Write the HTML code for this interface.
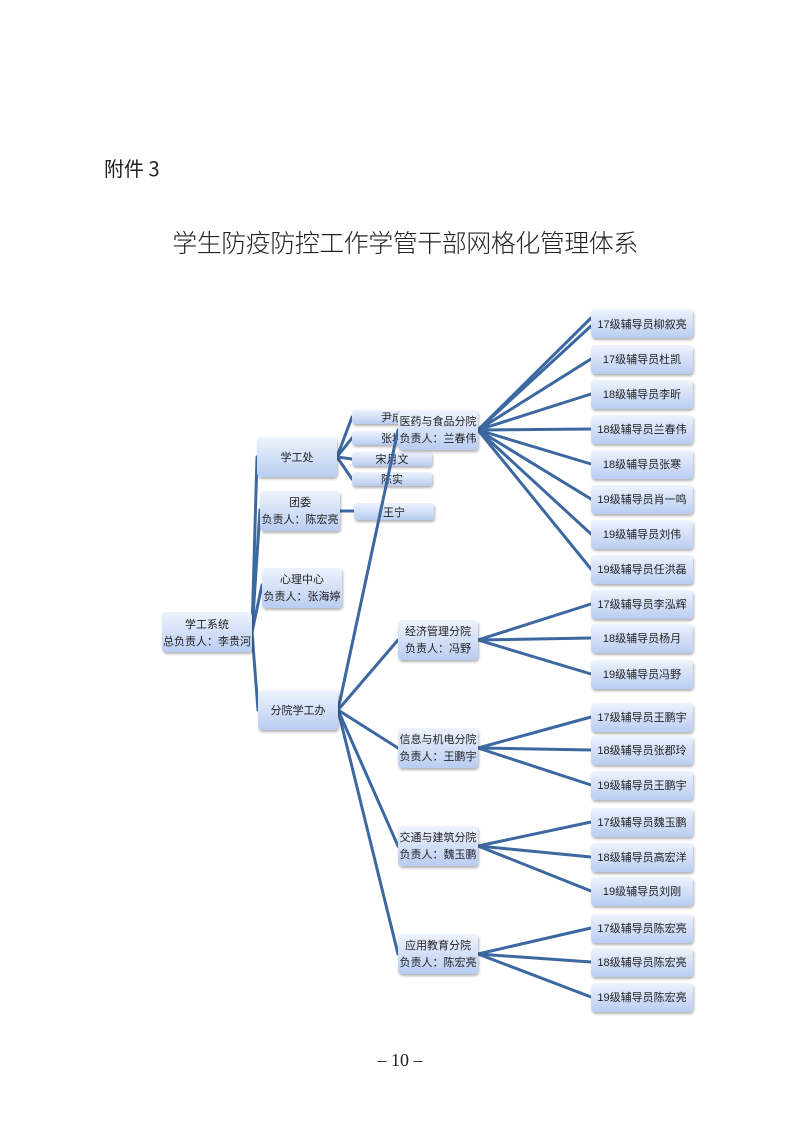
<!DOCTYPE html>
<html><head><meta charset="utf-8"><style>
html,body{margin:0;padding:0;background:#fff;}
svg{display:block;}
text{font-family:"Liberation Sans","Noto Sans CJK SC",sans-serif;fill:#222;}
</style></head><body>
<svg width="800" height="1131" viewBox="0 0 800 1131" xmlns="http://www.w3.org/2000/svg">
<defs>
<linearGradient id="g" x1="0" y1="0" x2="0" y2="1">
<stop offset="0" stop-color="#eef3fd"/><stop offset="1" stop-color="#b9cdf2"/>
</linearGradient>
<filter id="s" x="-10%" y="-20%" width="130%" height="160%"><feDropShadow dx="1" dy="2" stdDeviation="1.2" flood-color="#000" flood-opacity="0.3"/></filter>
</defs>
<rect width="800" height="1131" fill="#fff"/>
<text x="104" y="176" font-size="20" style="font-family:'Noto Sans CJK SC',sans-serif">附件 3</text>
<text x="405" y="252" font-size="25" text-anchor="middle" style="font-family:'Noto Sans CJK SC',sans-serif;font-weight:300;letter-spacing:-0.5px" fill="#333">学生防疫防控工作学管干部网格化管理体系</text>
<text x="400" y="1066" font-size="18" text-anchor="middle" style="font-family:'Liberation Serif',serif">–  10  –</text>

<g stroke="#3c68a2" stroke-width="3" fill="none" stroke-linecap="round">
<line x1="252" y1="632" x2="257" y2="457"/>
<line x1="252" y1="632" x2="260" y2="510"/>
<line x1="252" y1="632" x2="262" y2="585"/>
<line x1="252" y1="632" x2="258" y2="710"/>
<line x1="337" y1="457" x2="352" y2="417"/>
<line x1="337" y1="457" x2="352" y2="438"/>
<line x1="337" y1="457" x2="352" y2="459"/>
<line x1="337" y1="457" x2="352" y2="479"/>
<line x1="340" y1="511" x2="354" y2="511"/>
</g>
<g filter="url(#s)" fill="url(#g)">
<rect x="352" y="410" width="80" height="14" rx="3"/>
<rect x="352" y="431" width="80" height="14" rx="3"/>
<rect x="352" y="452" width="80" height="14" rx="3"/>
<rect x="352" y="472" width="80" height="14" rx="3"/>
<rect x="354" y="503" width="80" height="17" rx="3"/>
</g>
<g font-size="11" text-anchor="middle">
<text x="392" y="421">尹成</text><text x="392" y="442">张坤</text><text x="392" y="463">宋月文</text><text x="392" y="483">陈实</text><text x="394" y="516">王宁</text>
</g>
<g stroke="#3c68a2" stroke-width="3" fill="none" stroke-linecap="round">
<line x1="338" y1="710" x2="398" y2="430"/>
<line x1="338" y1="710" x2="398" y2="640"/>
<line x1="338" y1="710" x2="398" y2="748"/>
<line x1="338" y1="710" x2="398" y2="846"/>
<line x1="338" y1="710" x2="398" y2="954"/>
<line x1="478" y1="430" x2="591" y2="318"/>
<line x1="478" y1="430" x2="591" y2="326"/>
<line x1="478" y1="430" x2="591" y2="359"/>
<line x1="478" y1="430" x2="591" y2="394"/>
<line x1="478" y1="430" x2="591" y2="429"/>
<line x1="478" y1="430" x2="591" y2="464"/>
<line x1="478" y1="430" x2="591" y2="499"/>
<line x1="478" y1="430" x2="591" y2="534"/>
<line x1="478" y1="430" x2="591" y2="569"/>
<line x1="478" y1="640" x2="591" y2="604"/>
<line x1="478" y1="640" x2="591" y2="638"/>
<line x1="478" y1="640" x2="591" y2="674"/>
<line x1="478" y1="748" x2="591" y2="717"/>
<line x1="478" y1="748" x2="591" y2="750"/>
<line x1="478" y1="748" x2="591" y2="785"/>
<line x1="478" y1="846" x2="591" y2="822"/>
<line x1="478" y1="846" x2="591" y2="857"/>
<line x1="478" y1="846" x2="591" y2="891"/>
<line x1="478" y1="954" x2="591" y2="928"/>
<line x1="478" y1="954" x2="591" y2="962"/>
<line x1="478" y1="954" x2="591" y2="997"/>
</g>
<g filter="url(#s)" fill="url(#g)">
<rect x="162" y="612" width="90" height="40" rx="4"/>
<rect x="257" y="437" width="80" height="40" rx="4"/>
<rect x="260" y="491" width="80" height="40" rx="4"/>
<rect x="262" y="568" width="80" height="40" rx="4"/>
<rect x="258" y="690" width="80" height="40" rx="4"/>
<rect x="398" y="410" width="80" height="40" rx="4"/>
<rect x="398" y="620" width="80" height="40" rx="4"/>
<rect x="398" y="728" width="80" height="40" rx="4"/>
<rect x="398" y="826" width="80" height="40" rx="4"/>
<rect x="398" y="934" width="80" height="40" rx="4"/>
<rect x="591" y="309" width="102" height="29" rx="4"/>
<rect x="591" y="345" width="102" height="29" rx="4"/>
<rect x="591" y="380" width="102" height="29" rx="4"/>
<rect x="591" y="415" width="102" height="29" rx="4"/>
<rect x="591" y="450" width="102" height="29" rx="4"/>
<rect x="591" y="485" width="102" height="29" rx="4"/>
<rect x="591" y="520" width="102" height="29" rx="4"/>
<rect x="591" y="555" width="102" height="29" rx="4"/>
<rect x="591" y="590" width="102" height="29" rx="4"/>
<rect x="591" y="624" width="102" height="29" rx="4"/>
<rect x="591" y="660" width="102" height="29" rx="4"/>
<rect x="591" y="703" width="102" height="29" rx="4"/>
<rect x="591" y="736" width="102" height="29" rx="4"/>
<rect x="591" y="771" width="102" height="29" rx="4"/>
<rect x="591" y="808" width="102" height="29" rx="4"/>
<rect x="591" y="843" width="102" height="29" rx="4"/>
<rect x="591" y="877" width="102" height="29" rx="4"/>
<rect x="591" y="914" width="102" height="29" rx="4"/>
<rect x="591" y="948" width="102" height="29" rx="4"/>
<rect x="591" y="983" width="102" height="29" rx="4"/>
</g>
<g font-size="11" text-anchor="middle">
<text x="207" y="628">学工系统</text><text x="207" y="645">总负责人：李贵河</text>
<text x="297" y="461">学工处</text>
<text x="300" y="506">团委</text><text x="300" y="523">负责人：陈宏亮</text>
<text x="302" y="583">心理中心</text><text x="302" y="600">负责人：张海婷</text>
<text x="298" y="714">分院学工办</text>
<text x="438" y="425">医药与食品分院</text><text x="438" y="442">负责人：兰春伟</text>
<text x="438" y="635">经济管理分院</text><text x="438" y="652">负责人：冯野</text>
<text x="438" y="743">信息与机电分院</text><text x="438" y="760">负责人：王鹏宇</text>
<text x="438" y="841">交通与建筑分院</text><text x="438" y="858">负责人：魏玉鹏</text>
<text x="438" y="949">应用教育分院</text><text x="438" y="966">负责人：陈宏亮</text>
<text x="642" y="328">17级辅导员柳叙亮</text>
<text x="642" y="363">17级辅导员杜凯</text>
<text x="642" y="398">18级辅导员李昕</text>
<text x="642" y="433">18级辅导员兰春伟</text>
<text x="642" y="468">18级辅导员张寒</text>
<text x="642" y="503">19级辅导员肖一鸣</text>
<text x="642" y="538">19级辅导员刘伟</text>
<text x="642" y="573">19级辅导员任洪磊</text>
<text x="642" y="608">17级辅导员李泓辉</text>
<text x="642" y="642">18级辅导员杨月</text>
<text x="642" y="678">19级辅导员冯野</text>
<text x="642" y="721">17级辅导员王鹏宇</text>
<text x="642" y="754">18级辅导员张郡玲</text>
<text x="642" y="789">19级辅导员王鹏宇</text>
<text x="642" y="826">17级辅导员魏玉鹏</text>
<text x="642" y="861">18级辅导员高宏洋</text>
<text x="642" y="895">19级辅导员刘刚</text>
<text x="642" y="932">17级辅导员陈宏亮</text>
<text x="642" y="966">18级辅导员陈宏亮</text>
<text x="642" y="1001">19级辅导员陈宏亮</text>
</g>
</svg>
</body></html>
